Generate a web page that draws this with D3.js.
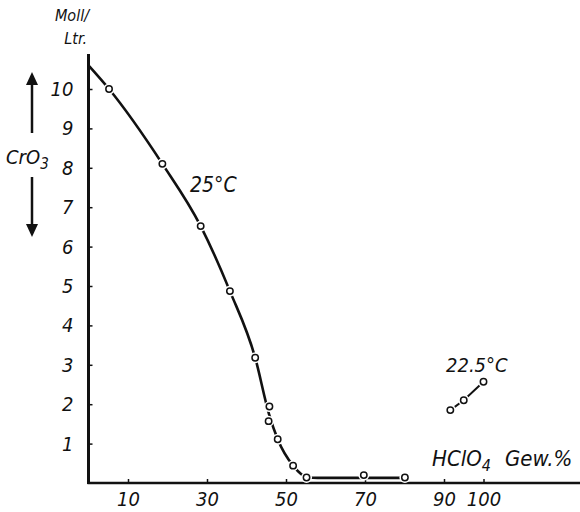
<!DOCTYPE html>
<html>
<head>
<meta charset="utf-8">
<script src="https://cdn.jsdelivr.net/npm/d3@7"></script>
<style>
  body { margin: 0; background: #fff; }
  text { font-family: "DejaVu Sans Condensed", "Liberation Sans Narrow", "DejaVu Sans", sans-serif; font-style: italic; fill: #111; }
</style>
</head>
<body>
<svg id="chart" width="580" height="512"></svg>
<script>
// tick values
const xTicks = [10, 30, 50, 70, 90, 100];
const yTicks = [1, 2, 3, 4, 5, 6, 7, 8, 9, 10];

// 25 °C measurements (HClO4 wt%, CrO3 mol/l)
const pts25X = [5.2, 18.7, 28.4, 35.8, 42.2, 45.8, 45.6, 47.9, 51.8, 55.2, 69.7, 80.1];
const pts25Y = [10.0, 8.1, 6.52, 4.87, 3.18, 1.94, 1.57, 1.11, 0.44, 0.14, 0.2, 0.14];

// drawn 25 °C curve
const curve25X = [0, 5.2, 18.7, 28.4, 35.8, 42.2, 45.7, 47.9, 51.8, 55.5, 58, 80.1];
const curve25Y = [10.6, 10.0, 8.1, 6.52, 4.87, 3.18, 1.75, 1.11, 0.44, 0.14, 0.13, 0.13];

// 22.5 °C measurements
const pts22X = [91.6, 95.0, 100];
const pts22Y = [1.85, 2.1, 2.57];

const svg = d3.select("#chart");

const x = d3.scaleLinear().domain([0, 100]).range([88.5, 483.5]);
const y = d3.scaleLinear().domain([0, 10]).range([483, 89]);

const zip = (xs, ys) => xs.map((v, i) => [v, ys[i]]);

// axes
svg.append("line")
  .attr("x1", x(0)).attr("x2", x(0))
  .attr("y1", 54).attr("y2", y(0) + 1)
  .attr("stroke", "#111").attr("stroke-width", 3);
svg.append("line")
  .attr("x1", x(0) - 1).attr("x2", 580)
  .attr("y1", y(0)).attr("y2", y(0))
  .attr("stroke", "#111").attr("stroke-width", 2.5);

const xAxis = d3.axisBottom(x).tickValues(xTicks).tickSize(-4).tickPadding(9);
const gx = svg.append("g").attr("transform", `translate(0,${y(0)})`).call(xAxis);
gx.select(".domain").remove();
gx.selectAll(".tick line").attr("stroke", "#111").attr("stroke-width", 1.5);
gx.selectAll(".tick text").attr("font-size", 20).attr("dy", "0.72em").attr("font-family", null);

const yAxis = d3.axisLeft(y).tickValues(yTicks).tickSize(-4).tickPadding(15);
const gy = svg.append("g").attr("transform", `translate(${x(0)},0)`).call(yAxis);
gy.select(".domain").remove();
gy.selectAll(".tick line").attr("stroke", "#111").attr("stroke-width", 1.5);
gy.selectAll(".tick text").attr("font-size", 20).attr("font-family", null);

// curves
const line = d3.line()
  .x((d) => x(d[0]))
  .y((d) => y(d[1]))
  .curve(d3.curveMonotoneX);

svg.append("path")
  .datum(zip(curve25X, curve25Y))
  .attr("d", line)
  .attr("fill", "none")
  .attr("stroke", "#111")
  .attr("stroke-width", 2.6);

svg.append("path")
  .datum(zip(pts22X, pts22Y))
  .attr("d", d3.line().x((d) => x(d[0])).y((d) => y(d[1])))
  .attr("fill", "none")
  .attr("stroke", "#111")
  .attr("stroke-width", 2);

// markers with a white halo to break the line
const markers = zip(pts25X, pts25Y).concat(zip(pts22X, pts22Y));
svg.selectAll("circle.halo")
  .data(markers)
  .join("circle")
  .attr("class", "halo")
  .attr("cx", (d) => x(d[0]))
  .attr("cy", (d) => y(d[1]))
  .attr("r", 5.5)
  .attr("fill", "#fff");
svg.selectAll("circle.pt")
  .data(markers)
  .join("circle")
  .attr("class", "pt")
  .attr("cx", (d) => x(d[0]))
  .attr("cy", (d) => y(d[1]))
  .attr("r", 3.2)
  .attr("fill", "#fff")
  .attr("stroke", "#111")
  .attr("stroke-width", 1.5);

// labels
svg.append("text").attr("x", 89).attr("y", 21).attr("text-anchor", "end")
  .attr("font-size", 16).text("Moll/");
svg.append("text").attr("x", 87).attr("y", 44).attr("text-anchor", "end")
  .attr("font-size", 16).text("Ltr.");

const cro = svg.append("text").attr("x", 6).attr("y", 164).attr("font-size", 20);
cro.append("tspan").text("CrO");
cro.append("tspan").attr("font-size", 15).attr("dy", 5).text("3");

// arrows beside CrO3
const arrow = (y1, y2) => {
  const dir = Math.sign(y2 - y1);
  svg.append("line").attr("x1", 32).attr("x2", 32)
    .attr("y1", y1).attr("y2", y2 - dir * 10)
    .attr("stroke", "#111").attr("stroke-width", 2.5);
  svg.append("path")
    .attr("d", `M26,${y2 - dir * 13}L32,${y2}L38,${y2 - dir * 13}Z`)
    .attr("fill", "#111");
};
arrow(133, 72);
arrow(177, 237);

svg.append("text").attr("x", 190).attr("y", 192).attr("font-size", 21).text("25°C");
svg.append("text").attr("x", 446).attr("y", 372).attr("font-size", 20).text("22.5°C");

const hcl = svg.append("text").attr("x", 432).attr("y", 466).attr("font-size", 22);
hcl.append("tspan").text("HClO");
hcl.append("tspan").attr("font-size", 16).attr("dy", 5).text("4");
hcl.append("tspan").attr("dy", -5).attr("dx", 14).text("Gew.%");
</script>
</body>
</html>
